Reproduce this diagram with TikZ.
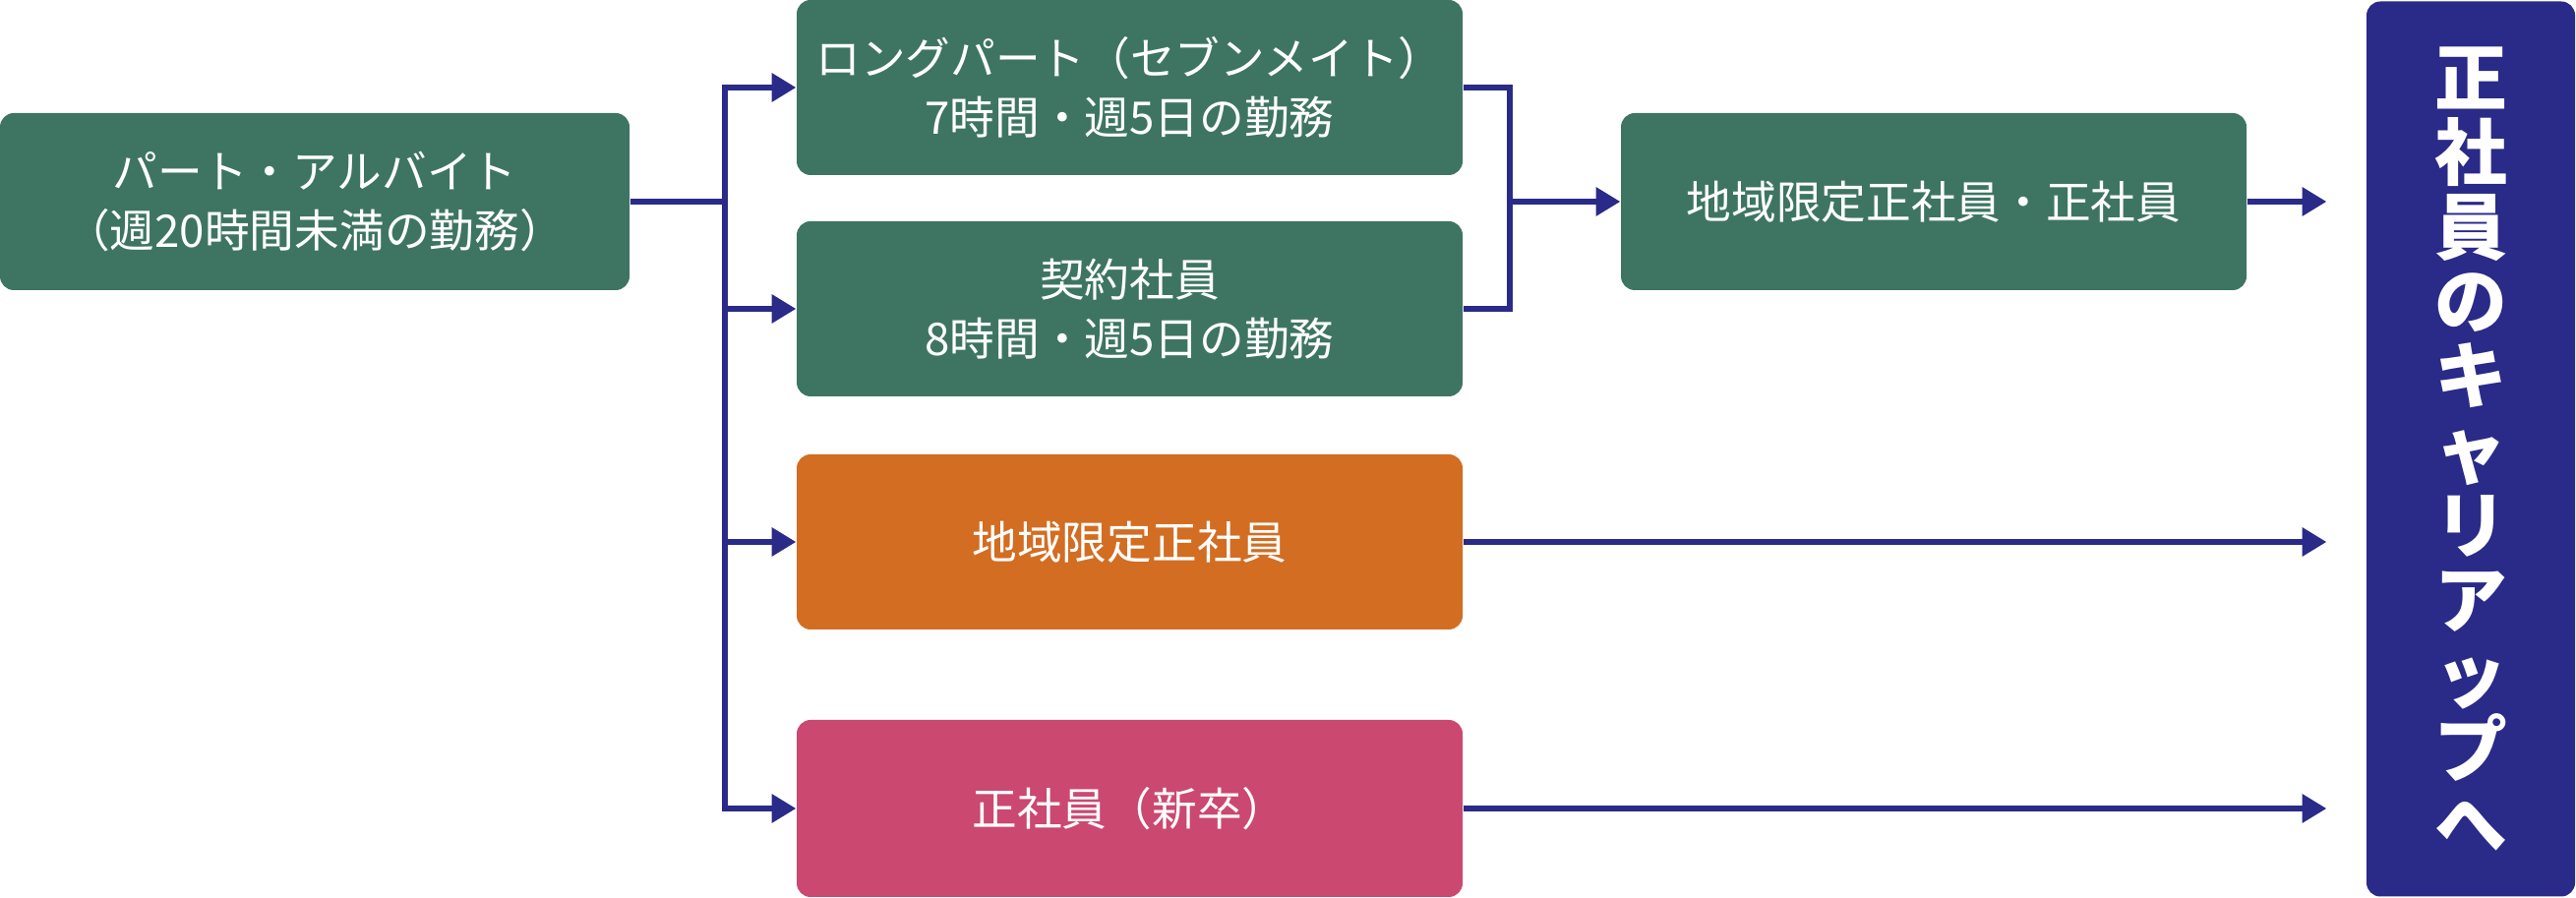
\documentclass[tikz,border=0pt]{standalone}
\usepackage{fontspec}
\setmainfont{Noto Sans CJK JP}
\usetikzlibrary{arrows.meta}
\definecolor{boxgreen}{HTML}{3E7562}
\definecolor{boxorange}{HTML}{D26D22}
\definecolor{boxpink}{HTML}{CB4870}
\definecolor{navy}{HTML}{2A2A88}
\begin{document}
\begin{tikzpicture}
\tikzset{box/.style = {draw=none, rounded corners=4pt, text=white, align=center, font=\fontsize{13}{17}\selectfont, inner sep=0pt}}
    \tikzset{link/.style = {draw=navy, line width=1.6pt, -{Triangle[length=7pt,width=8pt]}}}
\useasboundingbox (0,0) rectangle (26.19,9.13);
% boxes
\node[box, fill=boxgreen, minimum width=6.4cm, minimum height=1.8cm] (part) at (3.2,7.08){パート・アルバイト\\（週20時間未満の勤務）};
\node[box, fill=boxgreen, minimum width=6.77cm, minimum height=1.78cm] (long) at (11.485,8.24){ロングパート（セブンメイト）\\7時間・週5日の勤務};
\node[box, fill=boxgreen, minimum width=6.77cm, minimum height=1.78cm] (keiyaku) at (11.485,5.99){契約社員\\8時間・週5日の勤務};
\node[box, fill=boxorange, minimum width=6.77cm, minimum height=1.78cm] (chiiki) at (11.485,3.62){地域限定正社員};
\node[box, fill=boxpink, minimum width=6.77cm, minimum height=1.8cm] (shinsotsu) at (11.485,0.91){正社員（新卒）};
\node[box, fill=boxgreen, minimum width=6.36cm, minimum height=1.8cm] (seishain) at (19.66,7.08){地域限定正社員・正社員};
\node[box, fill=navy, minimum width=2.12cm, minimum height=9.1cm, font=\fontsize{21}{21.6}\selectfont\bfseries] (career) at (25.12,4.565){正\\社\\員\\の\\キ\\ャ\\リ\\ア\\ッ\\プ\\へ};
\coordinate (trunk) at (7.37,7.08);
\coordinate (merge) at (15.35,7.08);

% connectors
\draw[navy, line width=1.6pt] (part.east) -- (trunk);
\draw[link] (trunk) |- (long.west);
\draw[link] (trunk) |- (keiyaku.west);
\draw[link] (trunk) |- (chiiki.west);
\draw[link] (trunk) |- (shinsotsu.west);
\draw[navy, line width=1.6pt] (long.east) -| (merge) |- (keiyaku.east);
\draw[link] (merge) -- (seishain.west);
\draw[link] (seishain.east) -- ([xshift=-0.4cm]seishain.east -| career.west);
\draw[link] (chiiki.east) -- ([xshift=-0.4cm]chiiki.east -| career.west);
\draw[link] (shinsotsu.east) -- ([xshift=-0.4cm]shinsotsu.east -| career.west);
\end{tikzpicture}
\end{document}
